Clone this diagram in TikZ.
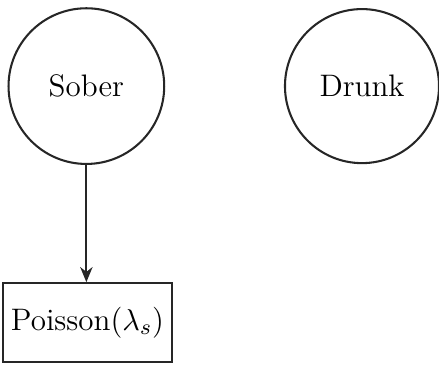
\documentclass[tikz,border=0pt]{standalone}
\usetikzlibrary{arrows.meta}
\begin{document}
\begin{tikzpicture}[x=1pt,y=1pt,
  every node/.style={font=\fontsize{11.3}{13}\selectfont},
  state/.style={draw=black!85, line width=0.75pt, circle, inner sep=0pt, minimum size=56.6pt},
  emit/.style={draw=black!85, line width=0.75pt, rectangle, inner sep=0pt, minimum width=61.4pt, minimum height=28.7pt},
  link/.style={draw=black!85, line width=0.75pt, -{Stealth[length=5.5pt,width=4.5pt]}}]
  \useasboundingbox (0,0) rectangle (159.6,132.4);
  \node[state] (sober) at (31.4,101.1) {Sober};
  \node[state, minimum size=56pt] (drunk) at (131.6,101.1) {Drunk};
  \node[emit] (pois) at (31.8,15.1) {Poisson($\lambda_s$)};
  \draw[link] (sober) -- (sober |- pois.north);
\end{tikzpicture}
\end{document}
